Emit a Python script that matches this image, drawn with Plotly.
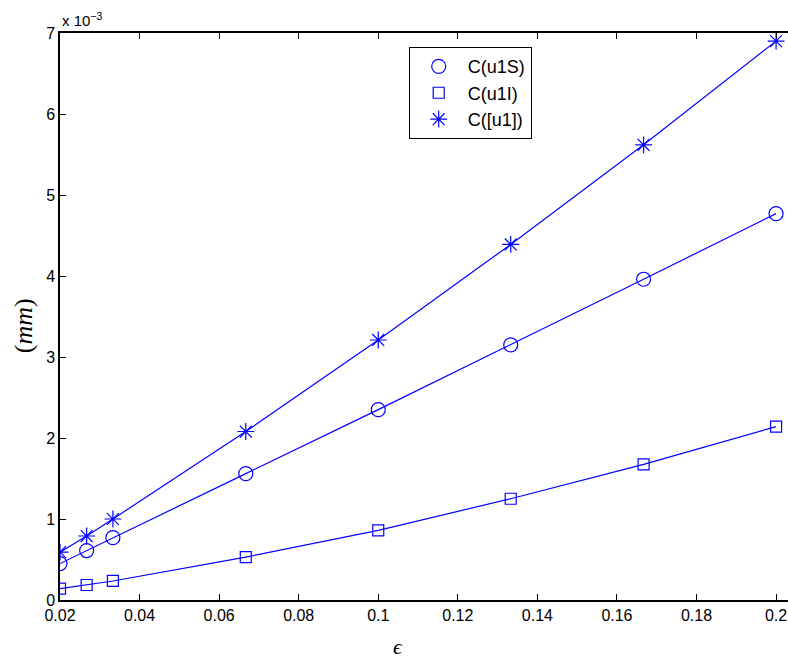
import plotly.graph_objects as go

eps = [0.02, 0.0267, 0.0333, 0.0667, 0.1, 0.1333, 0.1667, 0.2]
c_u1S = [0.45, 0.61, 0.77, 1.56, 2.35, 3.15, 3.96, 4.77]
c_u1I = [0.14, 0.185, 0.235, 0.53, 0.86, 1.25, 1.675, 2.14]
c_jump = [0.59, 0.79, 1.00, 2.08, 3.21, 4.39, 5.62, 6.90]

names = ["C(u1S)", "C(u1I)", "C([u1])"]
series = [c_u1S, c_u1I, c_jump]
symbols = ["circle-open", "square-open", "asterisk-open"]
sizes = [14, 11, 14]
blue = "rgb(0,0,255)"

fig = go.Figure()
for name, ys, sym, sz in zip(names, series, symbols, sizes):
    fig.add_trace(go.Scatter(x=eps, y=ys, mode="lines", showlegend=False,
                             line=dict(color=blue, width=1.2), hoverinfo="skip"))
for name, ys, sym, sz in zip(names, series, symbols, sizes):
    fig.add_trace(go.Scatter(x=eps, y=ys, mode="markers", name=name,
                             marker=dict(symbol=sym, size=sz, color=blue,
                                         line=dict(color=blue, width=1.2))))

axis_font = dict(family="Liberation Sans, Arial, sans-serif", size=16, color="black")
fig.update_layout(
    width=788, height=665,
    margin=dict(l=60, r=0, t=33, b=65, autoexpand=False),
    paper_bgcolor="white", plot_bgcolor="white",
    font=axis_font,
    showlegend=True,
    legend=dict(x=0.479, y=0.975, xanchor="left", yanchor="top",
                bordercolor="black", borderwidth=1, bgcolor="white",
                font=dict(family="Liberation Sans, Arial, sans-serif", size=18, color="black"),
                itemwidth=48, tracegroupgap=0),
    xaxis=dict(range=[0.02, 0.203], tick0=0.02, dtick=0.02, showgrid=False, zeroline=False,
               showline=True, linecolor="black", linewidth=1.5, mirror="ticks",
               ticks="inside", ticklen=6, tickcolor="black", tickfont=axis_font,
               automargin=False, ticklabeloverflow="allow"),
    yaxis=dict(range=[0, 7], dtick=1, showgrid=False, zeroline=False,
               showline=True, linecolor="black", linewidth=1.5, mirror=False,
               ticks="inside", ticklen=6, tickcolor="black", tickfont=axis_font,
               automargin=False, ticklabeloverflow="allow"),
    annotations=[
        dict(text="x 10<sup>−3</sup>", x=0, xref="paper", y=1, yref="paper",
             xanchor="left", yanchor="bottom", showarrow=False, yshift=2,
             font=dict(family="Liberation Sans, Arial, sans-serif", size=15, color="black")),
        dict(text="(<i>mm</i>)", x=0, xref="paper", xanchor="center", y=0.483, yref="paper",
             showarrow=False, textangle=-90, xshift=-37,
             font=dict(family="Liberation Serif, Times New Roman, serif", size=26, color="black")),
        dict(text="<i>ϵ</i>", x=0.105, xref="x", y=0, yref="paper", yanchor="top",
             showarrow=False, yshift=-32,
             font=dict(family="Liberation Serif, Times New Roman, serif", size=22, color="black")),
    ],
)
fig.write_html("out.html", config={"displayModeBar": False},
               post_script="document.body.style.margin='0';document.body.style.overflow='hidden';")
